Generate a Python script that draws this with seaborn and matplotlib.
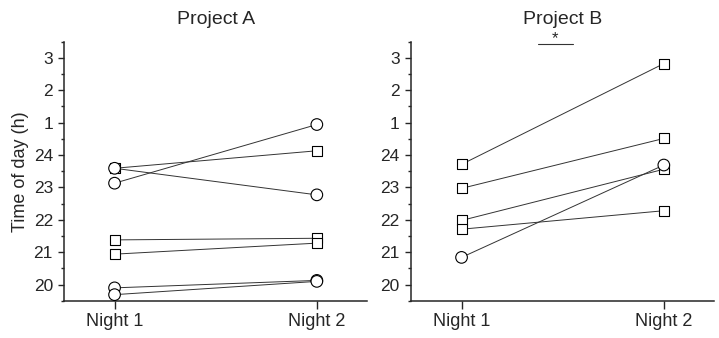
import matplotlib
matplotlib.use('Agg')
import matplotlib.pyplot as plt
import seaborn as sns
import numpy as np
import pandas as pd

sns.set_style('ticks')
plt.rcParams['font.family'] = ['Liberation Sans', 'DejaVu Sans']

## values (hours, 24 = midnight, 25 = 1 h ...)
nights = ['Night 1', 'Night 2']
a_night1 = [23.13, 23.59, 23.59, 21.38, 20.94, 19.90, 19.69]
a_night2 = [24.94, 24.13, 22.77, 21.43, 21.28, 20.13, 20.10]
a_shape = ['circle', 'square', 'circle', 'square', 'square', 'circle', 'circle']

b_night1 = [23.71, 22.97, 21.98, 21.71, 20.84]
b_night2 = [26.82, 24.51, 23.56, 22.28, 23.69]
b_shape = ['square', 'square', 'square', 'square', 'circle']

y_ticks = [20, 21, 22, 23, 24, 25, 26, 27]
y_labels = ['20', '21', '22', '23', '24', '1', '2', '3']


def make_df(n1, n2, shape):
    rows = []
    for i, (v1, v2, s) in enumerate(zip(n1, n2, shape)):
        rows.append({'subject': i, 'night': 0, 'time': v1, 'shape': s})
        rows.append({'subject': i, 'night': 1, 'time': v2, 'shape': s})
    return pd.DataFrame(rows)


df_a = make_df(a_night1, a_night2, a_shape)
df_b = make_df(b_night1, b_night2, b_shape)

fig = plt.figure(figsize=(7.19, 3.38), dpi=100)
ax_a = fig.add_axes([0.089, 0.11, 0.422, 0.767])
ax_b = fig.add_axes([0.5716, 0.11, 0.422, 0.767])

for ax, df, title in [(ax_a, df_a, 'Project A'), (ax_b, df_b, 'Project B')]:
    sns.lineplot(data=df, x='night', y='time', units='subject', estimator=None,
                 color='#333333', linewidth=0.7, ax=ax, legend=False)
    sns.scatterplot(data=df, x='night', y='time', style='shape',
                    markers={'circle': 'o', 'square': 's'},
                    size='shape', sizes={'circle': 70, 'square': 52},
                    color='white', edgecolor='black', linewidth=0.8,
                    ax=ax, legend=False, zorder=3)
    ax.set_xlim(-0.25, 1.25)
    ax.set_ylim(19.5, 27.5)
    ax.set_xticks([0, 1])
    ax.set_xticklabels(nights, fontsize=13)
    ax.set_yticks(y_ticks)
    ax.set_yticklabels(y_labels, fontsize=12.5)
    ax.set_yticks(np.arange(19.5, 27.6, 1.0), minor=True)
    ax.tick_params(axis='y', which='major', length=4.5, width=1.0)
    ax.tick_params(axis='y', which='minor', length=2.5, width=1.0)
    ax.tick_params(axis='x', which='major', length=5.5, width=1.0)
    for sp in ['left', 'bottom']:
        ax.spines[sp].set_linewidth(1.1)
    sns.despine(ax=ax)
    ax.set_xlabel('')
    ax.set_title(title, fontsize=14, pad=13)

ax_a.set_ylabel('Time of day (h)', fontsize=13, labelpad=3)
ax_b.set_ylabel('')

## significance marker
ax_b.plot([0.376, 0.55], [27.43, 27.43], color='#333333', linewidth=0.8, clip_on=False)
ax_b.text(0.463, 27.37, '*', ha='center', va='bottom', fontsize=12)

fig.savefig('out.png', dpi=100)
